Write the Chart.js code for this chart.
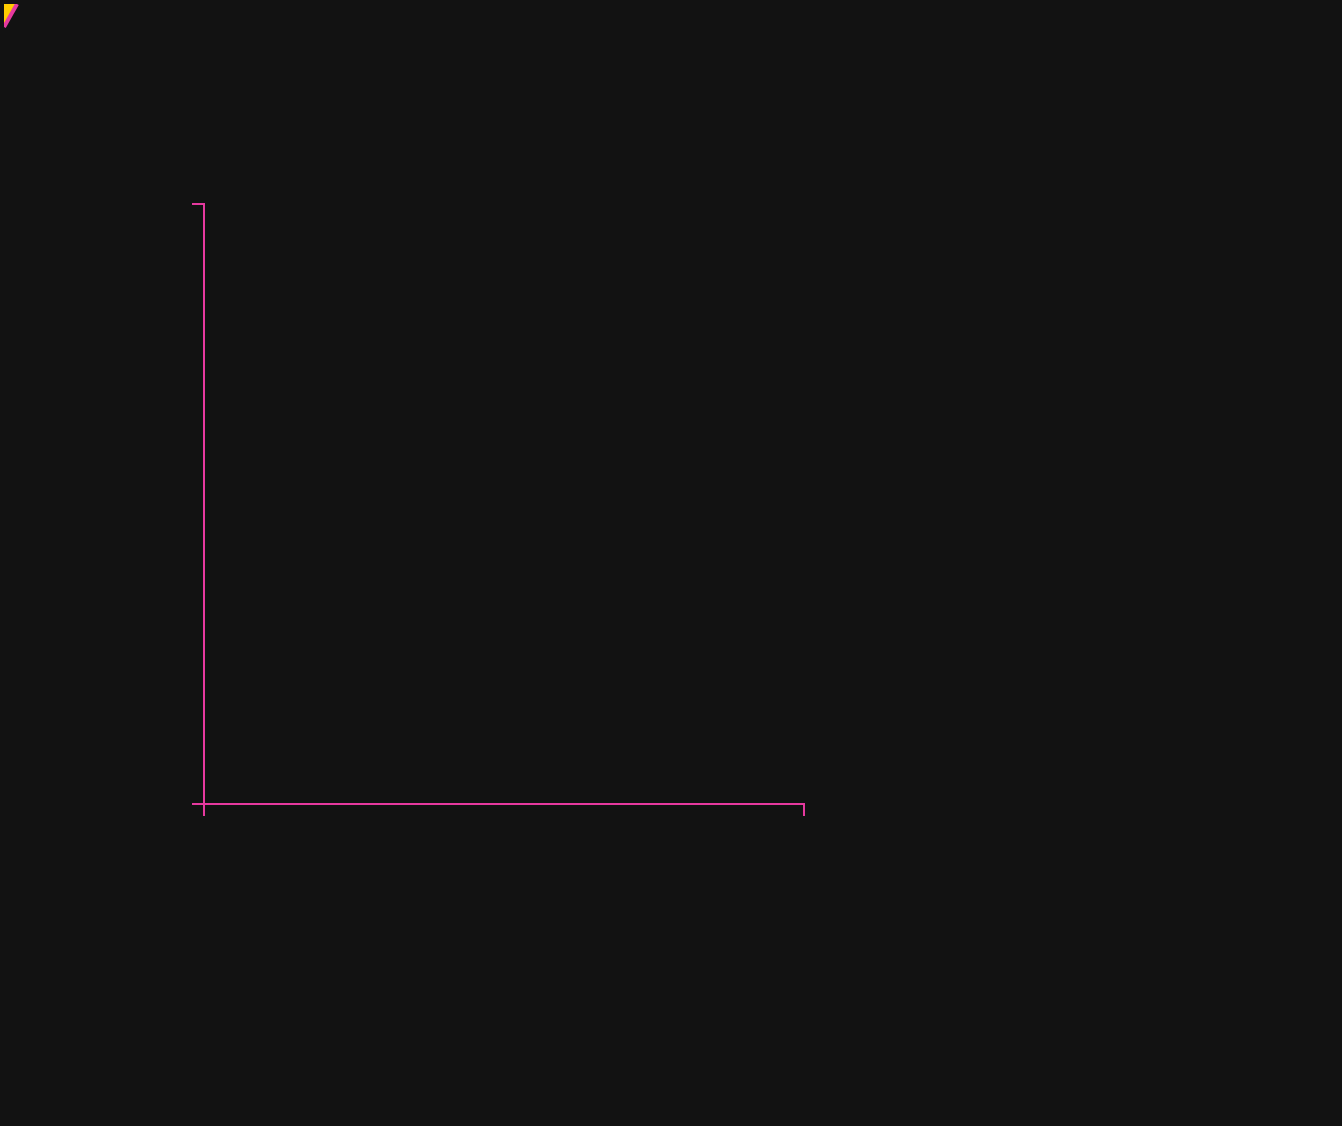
<!DOCTYPE html>
<html>
<head>
<meta charset="utf-8">
<script src="https://cdn.jsdelivr.net/npm/chart.js@4/dist/chart.umd.min.js"></script>
<style>
  html, body { margin: 0; padding: 0; background: #121212; }
  #main { position: absolute; left: 0; top: 0; width: 1342px; height: 1126px; }
  #mini { position: absolute; left: 4px; top: 4px; width: 24px; height: 32px; }
</style>
</head>
<body>
<div id="main"><canvas id="mainChart"></canvas></div>
<div id="mini"><canvas id="miniChart"></canvas></div>
<script>
// DATA
var axisRangeX = [0, 1];
var axisRangeY = [0, 1];
var mainSeries = [];          // the plot itself is empty
var miniX = [0, 1];
var miniY = [0, 1];

// COLOURS
var pink = '#e6399f';
var yellow = '#ffcc00';

Chart.defaults.animation = false;

//MAIN (EMPTY) AXES
var ctx = document.getElementById("mainChart").getContext('2d');
var edgeTicks = function(scale) {
    scale.ticks = [{ value: scale.min }, { value: scale.max }];
};
var axisOpts = function(range) {
    return {
        type: 'linear',
        min: range[0],
        max: range[1],
        afterBuildTicks: edgeTicks,
        ticks: { display: false },
        grid: {
            drawOnChartArea: false,
            color: pink,
            lineWidth: 2,
            tickLength: 12
        },
        border: { color: pink, width: 2 }
    };
};
var mainChart = new Chart(ctx, {
    type: 'line',
    data: {
        datasets: [{ data: mainSeries }]
    },
    options: {
        responsive: true,
        maintainAspectRatio: false,
        layout: { padding: { left: 192, top: 204, right: 538, bottom: 310 } },
        plugins: { legend: { display: false }, tooltip: { enabled: false } },
        scales: {
            x: axisOpts(axisRangeX),
            y: axisOpts(axisRangeY)
        }
    }
});

//SMALL CORNER MARK
var ctxmini = document.getElementById("miniChart").getContext('2d');
var miniChart = new Chart(ctxmini, {
    type: 'line',
    data: {
        datasets: [{
            data: miniX.map(function(v, i) { return { x: v, y: miniY[i] }; }),
            borderColor: pink,
            borderWidth: 4,
            backgroundColor: yellow,
            fill: 'end',
            pointRadius: 0,
            clip: false
        }]
    },
    options: {
        responsive: true,
        maintainAspectRatio: false,
        layout: { padding: { left: 0, top: 0, right: 11, bottom: 9 } },
        plugins: { legend: { display: false }, tooltip: { enabled: false } },
        scales: {
            x: { type: 'linear', min: 0, max: 1, display: false },
            y: { type: 'linear', min: 0, max: 1, display: false }
        }
    }
});
</script>
</body>
</html>
